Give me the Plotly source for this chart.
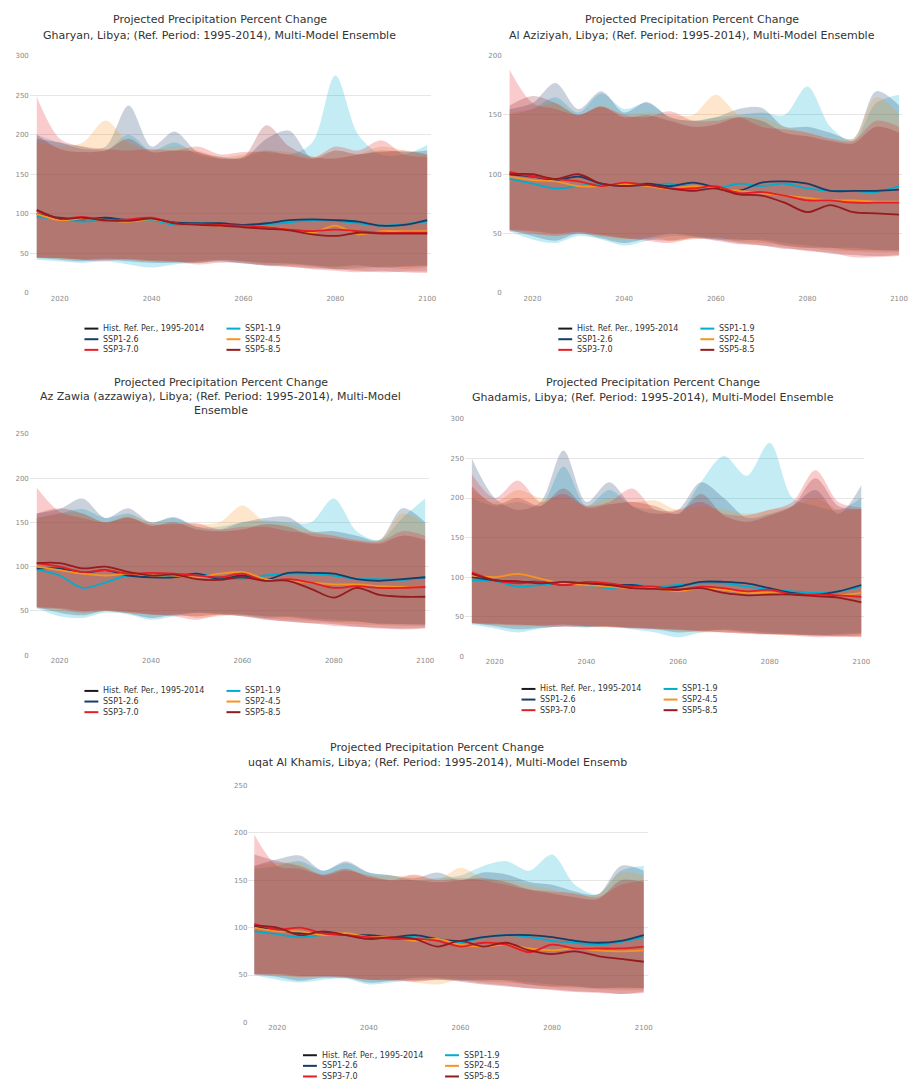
import plotly.graph_objects as go

# ---------------- data ----------------
YEARS = list(range(2015, 2101, 5))
SCENARIOS = ["SSP1-1.9", "SSP1-2.6", "SSP2-4.5", "SSP3-7.0", "SSP5-8.5"]
LEGEND_LABELS = ["Hist. Ref. Per., 1995-2014", "SSP1-1.9", "SSP1-2.6",
                 "SSP2-4.5", "SSP3-7.0", "SSP5-8.5"]
X_TICKS = [2020, 2040, 2060, 2080, 2100]

# Gharyan
GHARYAN_MED = {
    "SSP1-1.9": [96, 93, 90, 92, 91, 92, 86, 88, 87, 86, 87, 89, 92, 91, 88, 85, 87, 90],
    "SSP1-2.6": [100, 95, 93, 95, 92, 94, 89, 88, 88, 86, 88, 92, 93, 92, 90, 85, 86, 92],
    "SSP2-4.5": [100, 92, 94, 92, 90, 93, 88, 86, 85, 84, 83, 80, 76, 85, 74, 78, 78, 78],
    "SSP3-7.0": [104, 94, 96, 91, 93, 95, 88, 87, 86, 85, 83, 80, 78, 80, 78, 76, 76, 76],
    "SSP5-8.5": [105, 94, 95, 92, 91, 94, 88, 86, 85, 83, 81, 79, 74, 72, 76, 75, 75, 75],
}
GHARYAN_UP = {
    "SSP1-1.9": [200, 190, 185, 180, 200, 180, 190, 175, 170, 172, 180, 175, 190, 275, 200, 175, 175, 187],
    "SSP1-2.6": [195, 190, 182, 185, 237, 185, 204, 178, 172, 170, 195, 205, 170, 180, 175, 180, 178, 180],
    "SSP2-4.5": [190, 185, 190, 218, 190, 180, 185, 180, 172, 175, 180, 178, 172, 180, 176, 185, 180, 175],
    "SSP3-7.0": [248, 195, 185, 182, 180, 182, 180, 185, 175, 178, 178, 175, 170, 185, 180, 193, 175, 172],
    "SSP5-8.5": [200, 182, 178, 180, 195, 178, 180, 178, 170, 172, 212, 185, 172, 170, 175, 178, 180, 175],
}
GHARYAN_LO = {
    "SSP1-1.9": [42, 40, 38, 40, 36, 32, 36, 38, 40, 37, 35, 36, 34, 30, 32, 33, 34, 35],
    "SSP1-2.6": [44, 42, 40, 42, 40, 38, 38, 40, 42, 40, 38, 37, 35, 33, 35, 32, 33, 34],
    "SSP2-4.5": [45, 43, 42, 44, 42, 40, 40, 38, 42, 40, 36, 35, 33, 30, 30, 32, 30, 32],
    "SSP3-7.0": [44, 44, 42, 40, 43, 41, 40, 36, 38, 38, 34, 33, 30, 28, 26, 28, 26, 25],
    "SSP5-8.5": [45, 44, 42, 43, 42, 40, 39, 38, 40, 37, 35, 33, 31, 30, 28, 26, 27, 27],
}

# Al Aziziyah
AZIZIYAH_MED = {
    "SSP1-1.9": [96, 92, 88, 90, 92, 90, 91, 92, 90, 88, 92, 90, 92, 88, 86, 86, 85, 90],
    "SSP1-2.6": [100, 98, 95, 98, 92, 90, 92, 90, 93, 89, 86, 93, 94, 92, 86, 86, 86, 87],
    "SSP2-4.5": [98, 95, 94, 90, 90, 92, 90, 88, 90, 88, 86, 84, 82, 80, 78, 78, 77, 77],
    "SSP3-7.0": [102, 98, 96, 94, 90, 93, 91, 88, 88, 90, 84, 85, 82, 78, 78, 76, 76, 76],
    "SSP5-8.5": [100, 100, 96, 100, 92, 90, 91, 88, 86, 88, 83, 82, 76, 68, 74, 68, 67, 66],
}
AZIZIYAH_UP = {
    "SSP1-1.9": [150, 155, 165, 152, 168, 155, 160, 148, 145, 148, 150, 152, 150, 174, 140, 128, 160, 167],
    "SSP1-2.6": [155, 160, 177, 155, 170, 152, 161, 148, 145, 148, 155, 156, 140, 140, 135, 130, 170, 158],
    "SSP2-4.5": [152, 155, 160, 150, 158, 150, 152, 150, 150, 167, 150, 148, 140, 135, 130, 130, 165, 150],
    "SSP3-7.0": [188, 160, 155, 150, 157, 150, 148, 153, 145, 145, 148, 140, 138, 135, 130, 128, 145, 140],
    "SSP5-8.5": [158, 166, 160, 150, 157, 148, 150, 145, 140, 142, 148, 145, 135, 132, 128, 126, 140, 135],
}
AZIZIYAH_LO = {
    "SSP1-1.9": [52, 45, 42, 48, 45, 40, 44, 48, 47, 45, 44, 45, 42, 40, 38, 38, 36, 35],
    "SSP1-2.6": [53, 48, 44, 50, 46, 42, 46, 50, 48, 46, 45, 44, 40, 38, 38, 36, 36, 36],
    "SSP2-4.5": [54, 50, 48, 52, 48, 45, 48, 44, 45, 47, 43, 42, 40, 38, 36, 35, 34, 34],
    "SSP3-7.0": [52, 50, 48, 50, 48, 46, 44, 42, 46, 45, 42, 40, 38, 35, 34, 30, 30, 31],
    "SSP5-8.5": [53, 52, 50, 51, 49, 46, 45, 44, 46, 44, 41, 40, 37, 36, 33, 32, 31, 32],
}

# Az Zawia
ZAWIA_MED = {
    "SSP1-1.9": [97, 90, 76, 82, 90, 88, 90, 92, 88, 86, 90, 92, 92, 90, 86, 86, 85, 88],
    "SSP1-2.6": [98, 98, 93, 96, 90, 88, 88, 92, 86, 90, 85, 93, 93, 92, 86, 84, 86, 88],
    "SSP2-4.5": [100, 96, 92, 90, 92, 90, 90, 88, 92, 94, 86, 84, 82, 80, 80, 78, 77, 77],
    "SSP3-7.0": [104, 100, 94, 96, 92, 93, 92, 90, 88, 92, 84, 86, 82, 76, 78, 76, 76, 77],
    "SSP5-8.5": [104, 104, 98, 100, 94, 90, 91, 86, 85, 88, 84, 84, 75, 65, 76, 68, 66, 66],
}
ZAWIA_UP = {
    "SSP1-1.9": [155, 160, 165, 155, 160, 150, 155, 145, 145, 150, 152, 150, 150, 177, 140, 130, 155, 177],
    "SSP1-2.6": [160, 165, 177, 155, 166, 150, 156, 145, 142, 150, 155, 156, 140, 140, 135, 130, 166, 150],
    "SSP2-4.5": [155, 160, 160, 150, 158, 150, 150, 148, 150, 169, 150, 148, 140, 135, 130, 130, 160, 148],
    "SSP3-7.0": [189, 162, 155, 150, 155, 148, 148, 149, 142, 145, 145, 140, 138, 135, 130, 128, 140, 135],
    "SSP5-8.5": [160, 166, 160, 150, 156, 146, 150, 142, 140, 142, 148, 145, 135, 132, 128, 126, 135, 130],
}
ZAWIA_LO = {
    "SSP1-1.9": [53, 44, 42, 48, 46, 40, 44, 48, 46, 45, 42, 44, 42, 40, 38, 36, 35, 34],
    "SSP1-2.6": [54, 48, 45, 50, 47, 42, 46, 48, 47, 46, 44, 43, 40, 38, 38, 35, 35, 35],
    "SSP2-4.5": [55, 50, 48, 50, 48, 46, 47, 42, 44, 46, 42, 40, 39, 37, 35, 34, 33, 33],
    "SSP3-7.0": [53, 52, 48, 50, 48, 46, 44, 40, 45, 44, 41, 38, 36, 33, 32, 30, 29, 30],
    "SSP5-8.5": [54, 53, 50, 51, 49, 46, 45, 44, 46, 44, 40, 38, 36, 35, 32, 31, 30, 31],
}

# Ghadamis
GHADAMIS_MED = {
    "SSP1-1.9": [96, 95, 88, 90, 92, 90, 86, 90, 88, 90, 92, 92, 88, 84, 82, 80, 82, 88],
    "SSP1-2.6": [100, 96, 94, 94, 90, 92, 90, 90, 86, 88, 94, 94, 92, 86, 80, 78, 82, 90],
    "SSP2-4.5": [102, 100, 104, 98, 92, 90, 88, 86, 86, 82, 86, 84, 80, 80, 78, 78, 77, 80],
    "SSP3-7.0": [106, 96, 92, 94, 90, 94, 92, 88, 88, 84, 88, 86, 82, 84, 78, 78, 77, 75],
    "SSP5-8.5": [104, 96, 95, 92, 94, 92, 90, 86, 85, 84, 86, 80, 77, 78, 78, 76, 74, 68],
}
GHADAMIS_UP = {
    "SSP1-1.9": [200, 190, 195, 190, 240, 190, 210, 190, 185, 180, 220, 253, 228, 270, 200, 190, 185, 200],
    "SSP1-2.6": [250, 200, 185, 195, 260, 195, 220, 190, 180, 185, 220, 200, 175, 180, 190, 210, 180, 216],
    "SSP2-4.5": [210, 195, 210, 200, 200, 190, 200, 195, 197, 185, 190, 185, 180, 185, 190, 200, 185, 185],
    "SSP3-7.0": [230, 200, 222, 195, 205, 190, 195, 212, 185, 185, 195, 180, 178, 185, 195, 235, 195, 188],
    "SSP5-8.5": [215, 192, 200, 190, 212, 188, 192, 195, 190, 180, 205, 178, 170, 178, 190, 225, 190, 186],
}
GHADAMIS_LO = {
    "SSP1-1.9": [40, 35, 30, 35, 38, 36, 38, 34, 30, 24, 30, 34, 32, 30, 28, 26, 28, 30],
    "SSP1-2.6": [42, 38, 34, 36, 38, 37, 38, 36, 34, 30, 32, 33, 30, 28, 28, 27, 27, 28],
    "SSP2-4.5": [42, 40, 38, 38, 40, 38, 36, 36, 35, 32, 30, 31, 30, 28, 26, 26, 25, 26],
    "SSP3-7.0": [41, 40, 39, 38, 37, 38, 37, 35, 34, 34, 31, 30, 28, 27, 26, 24, 25, 24],
    "SSP5-8.5": [42, 41, 40, 39, 40, 38, 37, 36, 35, 33, 32, 30, 29, 28, 27, 26, 25, 25],
}

# Suqat Al Khamis
KHAMIS_MED = {
    "SSP1-1.9": [96, 93, 90, 92, 92, 88, 90, 90, 88, 84, 90, 92, 90, 86, 84, 82, 85, 90],
    "SSP1-2.6": [101, 98, 94, 95, 92, 92, 90, 92, 88, 86, 90, 92, 92, 90, 86, 84, 86, 92],
    "SSP2-4.5": [100, 96, 96, 92, 94, 90, 90, 86, 88, 82, 80, 82, 78, 76, 78, 76, 75, 76],
    "SSP3-7.0": [104, 98, 100, 94, 92, 90, 88, 88, 86, 80, 84, 82, 74, 82, 78, 78, 78, 80],
    "SSP5-8.5": [102, 100, 92, 96, 92, 88, 90, 88, 80, 86, 80, 84, 76, 72, 75, 70, 67, 64],
}
KHAMIS_UP = {
    "SSP1-1.9": [162, 165, 170, 160, 168, 158, 155, 150, 152, 155, 165, 170, 160, 177, 145, 135, 160, 165],
    "SSP1-2.6": [165, 172, 176, 160, 170, 158, 155, 152, 158, 150, 158, 156, 148, 145, 138, 135, 165, 160],
    "SSP2-4.5": [165, 168, 168, 155, 162, 155, 154, 155, 150, 163, 152, 150, 145, 140, 135, 135, 158, 155],
    "SSP3-7.0": [198, 165, 162, 155, 160, 155, 150, 156, 150, 152, 150, 145, 140, 138, 136, 132, 145, 150],
    "SSP5-8.5": [177, 170, 165, 156, 162, 153, 150, 150, 148, 150, 152, 148, 140, 136, 132, 130, 150, 148],
}
KHAMIS_LO = {
    "SSP1-1.9": [50, 45, 42, 45, 46, 40, 42, 45, 46, 44, 44, 45, 42, 40, 38, 36, 37, 36],
    "SSP1-2.6": [51, 48, 44, 47, 47, 42, 44, 47, 47, 45, 45, 44, 40, 38, 38, 36, 36, 36],
    "SSP2-4.5": [52, 50, 47, 49, 48, 45, 46, 42, 40, 45, 43, 42, 40, 37, 36, 35, 34, 34],
    "SSP3-7.0": [50, 50, 48, 48, 47, 45, 44, 43, 45, 44, 41, 39, 36, 34, 32, 31, 30, 31],
    "SSP5-8.5": [51, 51, 49, 49, 48, 45, 45, 44, 45, 43, 40, 38, 36, 35, 33, 32, 30, 32],
}

TITLE_LINE1 = "Projected Precipitation Percent Change"
GHARYAN_TITLE = ["Gharyan, Libya; (Ref. Period: 1995-2014), Multi-Model Ensemble"]
AZIZIYAH_TITLE = ["Al Aziziyah, Libya; (Ref. Period: 1995-2014), Multi-Model Ensemble"]
ZAWIA_TITLE = ["Az Zawia (azzawiya), Libya; (Ref. Period: 1995-2014), Multi-Model", "Ensemble"]
GHADAMIS_TITLE = ["Ghadamis, Libya; (Ref. Period: 1995-2014), Multi-Model Ensemble"]
KHAMIS_TITLE = ["uqat Al Khamis, Libya; (Ref. Period: 1995-2014), Multi-Model Ensemb"]

# ---------------- styling / layout ----------------
W, H = 912, 1091
COLORS = {
    "Hist. Ref. Per., 1995-2014": "#1a1a1a",
    "SSP1-1.9": "#00ADCF",
    "SSP1-2.6": "#173C66",
    "SSP2-4.5": "#F79420",
    "SSP3-7.0": "#E71D25",
    "SSP5-8.5": "#951B1E",
}
FILL_ALPHA = 0.23
FONT = "DejaVu Sans"


def rgba(hexc, a):
    h = hexc.lstrip("#")
    return "rgba(%d,%d,%d,%.3f)" % (int(h[0:2], 16), int(h[2:4], 16), int(h[4:6], 16), a)


panels = [
    dict(med=GHARYAN_MED, up=GHARYAN_UP, lo=GHARYAN_LO, title=GHARYAN_TITLE, ymax=300,
         plot_px=(30, 434), data_px=(37, 430), py=(52, 291),
         tx=221, ty=[16, 32], leg=(85, 327)),
    dict(med=AZIZIYAH_MED, up=AZIZIYAH_UP, lo=AZIZIYAH_LO, title=AZIZIYAH_TITLE, ymax=200,
         plot_px=(506, 908), data_px=(513, 905), py=(52, 291),
         tx=697, ty=[16, 32], leg=(562, 327)),
    dict(med=ZAWIA_MED, up=ZAWIA_UP, lo=ZAWIA_LO, title=ZAWIA_TITLE, ymax=250,
         plot_px=(30, 432), data_px=(37, 428), py=(433, 656),
         tx=222, ty=[381, 395, 410], leg=(85, 692)),
    dict(med=GHADAMIS_MED, up=GHADAMIS_UP, lo=GHADAMIS_LO, title=GHADAMIS_TITLE, ymax=300,
         plot_px=(468, 870), data_px=(475, 867), py=(418, 657),
         tx=657, ty=[381, 396], leg=(525, 690)),
    dict(med=KHAMIS_MED, up=KHAMIS_UP, lo=KHAMIS_LO, title=KHAMIS_TITLE, ymax=250,
         plot_px=(250, 652), data_px=(256, 648), py=(787, 1026),
         tx=440, ty=[749, 764], leg=(305, 1059)),
]

fig = go.Figure()
annotations = []
shapes = []

for i, p in enumerate(panels):
    n = "" if i == 0 else str(i + 1)
    xa, ya = "x" + n, "y" + n
    # bands
    for s in SCENARIOS:
        fig.add_trace(go.Scatter(
            x=YEARS, y=p["lo"][s], mode="lines", xaxis=xa, yaxis=ya,
            line=dict(width=0, shape="spline", smoothing=0.9),
            showlegend=False, hoverinfo="skip"))
        fig.add_trace(go.Scatter(
            x=YEARS, y=p["up"][s], mode="lines", xaxis=xa, yaxis=ya,
            line=dict(width=0, shape="spline", smoothing=0.9),
            fill="tonexty", fillcolor=rgba(COLORS[s], FILL_ALPHA),
            showlegend=False, name=s + " range", hoverinfo="skip"))
    # medians
    for s in SCENARIOS:
        fig.add_trace(go.Scatter(
            x=YEARS, y=p["med"][s], mode="lines", xaxis=xa, yaxis=ya,
            line=dict(width=1.8, color=COLORS[s], shape="spline", smoothing=0.9),
            name=s, showlegend=False))

    x0, x1 = p["plot_px"]
    d0, d1 = p["data_px"]
    ppy = (d1 - d0) / (YEARS[-1] - YEARS[0])
    xr = [YEARS[0] - (d0 - x0) / ppy, YEARS[-1] + (x1 - d1) / ppy]
    y0, y1 = p["py"]

    fig.layout["xaxis" + n] = dict(
        domain=[x0 / W, x1 / W], range=xr, anchor=ya,
        tickmode="array", tickvals=X_TICKS, showgrid=False, zeroline=False,
        showline=False, ticks="", tickfont=dict(size=7, color="#8a8a8a", family=FONT))
    fig.layout["yaxis" + n] = dict(
        domain=[1 - y1 / H, 1 - y0 / H], range=[0, p["ymax"]], anchor=xa,
        dtick=50, tick0=0, showgrid=True, gridcolor="#e6e6e6", gridwidth=1,
        zeroline=False, showline=False, ticks="",
        tickfont=dict(size=7, color="#8a8a8a", family=FONT))

    # title
    lines = [TITLE_LINE1] + p["title"]
    for ln, yy in zip(lines, p["ty"]):
        annotations.append(dict(
            text=ln, x=p["tx"] / W, y=1 - yy / H, xref="paper", yref="paper",
            xanchor="center", yanchor="middle", showarrow=False,
            font=dict(size=11, color="#333333", family=FONT)))

    # legend (two columns)
    lx, ly = p["leg"]
    for j, lab in enumerate(LEGEND_LABELS):
        col, row = j % 2, j // 2
        sx = lx + col * 143
        sy = ly + row * 10.7
        shapes.append(dict(
            type="line", xref="paper", yref="paper",
            x0=sx / W, x1=(sx + 14) / W, y0=1 - sy / H, y1=1 - sy / H,
            line=dict(color=COLORS[lab], width=2)))
        annotations.append(dict(
            text=lab, x=(sx + 17) / W, y=1 - sy / H, xref="paper", yref="paper",
            xanchor="left", yanchor="middle", showarrow=False,
            font=dict(size=8, color="#333333", family=FONT)))

fig.update_layout(
    width=W, height=H, margin=dict(l=0, r=0, t=0, b=0),
    paper_bgcolor="white", plot_bgcolor="white",
    showlegend=False, annotations=annotations, shapes=shapes,
    font=dict(family=FONT),
)

fig.write_html("out.html", config={"displayModeBar": False},
               post_script="document.body.style.margin='0';document.body.style.overflow='hidden';")
